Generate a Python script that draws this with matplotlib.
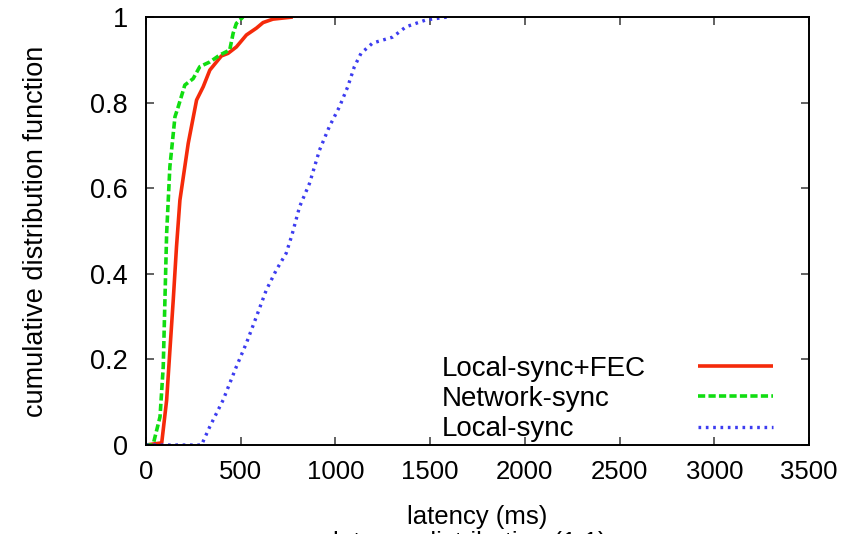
import matplotlib as mpl
mpl.use('Agg')
import matplotlib.pyplot as plt

plt.rcParams['font.family'] = ['Liberation Sans', 'DejaVu Sans']

# latency (ms) / cdf
fec_x = [0, 83, 109, 126, 144, 161, 179, 223, 267, 302, 337, 398, 433, 477, 530, 583, 618, 670, 775]
fec_y = [0, 0.005, 0.105, 0.22, 0.34, 0.463, 0.572, 0.705, 0.806, 0.837, 0.876, 0.909, 0.915, 0.93, 0.958, 0.974, 0.987, 0.995, 1.0]

net_x = [0, 37, 74, 91, 100, 109, 126, 153, 170, 205, 249, 284, 337, 389, 442, 460, 477, 512]
net_y = [0, 0, 0.066, 0.183, 0.34, 0.495, 0.65, 0.767, 0.79, 0.841, 0.856, 0.884, 0.895, 0.911, 0.923, 0.962, 0.985, 1.0]

loc_x = [0, 293, 337, 407, 477, 530, 583, 635, 688, 740, 770, 811, 863, 916, 968, 1021, 1065, 1100, 1135, 1196, 1302, 1372, 1477, 1591]
loc_y = [0, 0, 0.043, 0.105, 0.183, 0.238, 0.3, 0.362, 0.409, 0.448, 0.49, 0.557, 0.611, 0.689, 0.744, 0.79, 0.837, 0.884, 0.915, 0.939, 0.953, 0.977, 0.993, 1.0]

labels = ['Local-sync+FEC', 'Network-sync', 'Local-sync']
xticks = [0, 500, 1000, 1500, 2000, 2500, 3000, 3500]
yticks = [0, 0.2, 0.4, 0.6, 0.8, 1.0]
yticklabels = ['0', '0.2', '0.4', '0.6', '0.8', '1']

fig = plt.figure(figsize=(8.58, 5.34), dpi=100)
ax = fig.add_axes([146/858, 89/534, 663/858, 428/534])

l1, = ax.plot(fec_x, fec_y, color='#f52a0a', lw=2.6, solid_capstyle='butt')
l2, = ax.plot(net_x, net_y, color='#11dd11', lw=2.6, dashes=(2.0, 0.9))
l3, = ax.plot(loc_x, loc_y, color='#3c3cf0', lw=2.4, dashes=(0.8, 1.4))

ax.set_xlim(0, 3500)
ax.set_ylim(0, 1)
ax.set_xticks(xticks)
ax.set_yticks(yticks)
ax.set_yticklabels(yticklabels)
ax.tick_params(direction='in', top=True, right=True, length=6, width=1.3,
               color='#555555')
ax.tick_params(axis='x', labelsize=18.5, pad=11)
ax.tick_params(axis='y', labelsize=19.5, pad=13)
for s in ax.spines.values():
    s.set_linewidth(1.4)

ax.set_xlabel('latency (ms)', fontsize=18.5, labelpad=15)
ax.set_ylabel('cumulative distribution function', fontsize=19.5, labelpad=30)

# legend: texts left-aligned, samples in a column to the right
hid = [plt.Line2D([], [], alpha=0) for _ in labels]
leg1 = ax.legend(hid, labels, loc='upper left', bbox_to_anchor=(0.4465, 0.208),
                 frameon=False, fontsize=20, handlelength=0, handletextpad=0,
                 borderpad=0, borderaxespad=0, labelspacing=0.15)
ax.add_artist(leg1)
ax.legend([l1, l2, l3], [' ', ' ', ' '], loc='upper left', bbox_to_anchor=(0.8326, 0.208),
          frameon=False, fontsize=20, handlelength=2.7, handletextpad=0,
          borderpad=0, borderaxespad=0, labelspacing=0.15)

# caption of the page, cut off at the bottom edge
fig.text(470/858, 0.006, 'latency distribution (1:1)', ha='center', va='top', fontsize=18.5)

plt.savefig('out.png', dpi=100)
